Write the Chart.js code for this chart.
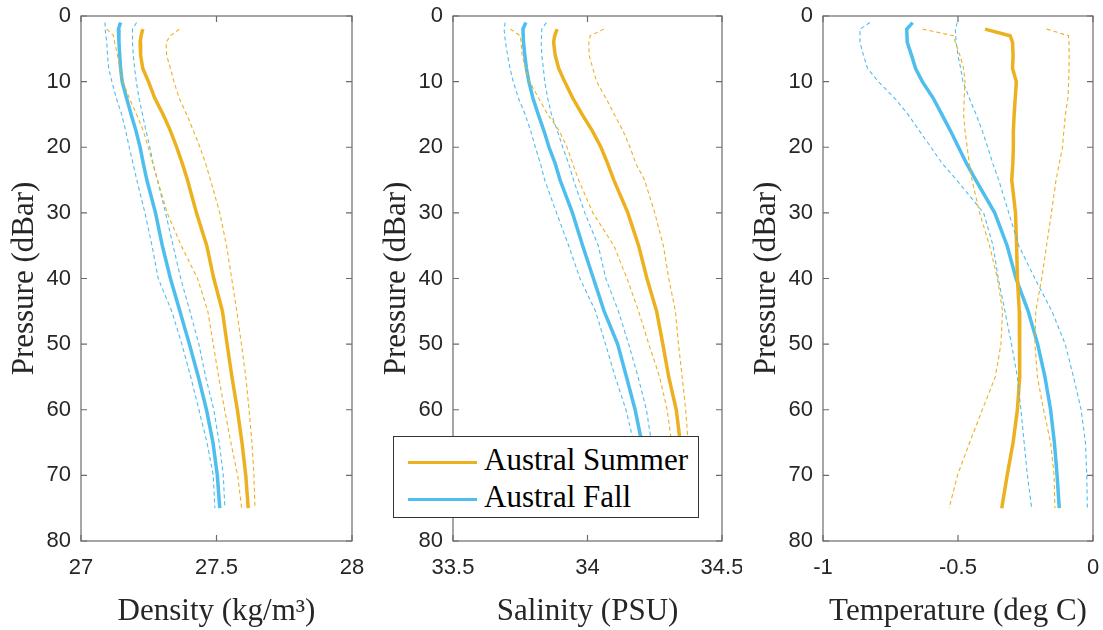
<!DOCTYPE html>
<html>
<head>
<meta charset="utf-8">
<script src="https://cdn.jsdelivr.net/npm/chart.js@4.4.1/dist/chart.umd.min.js"></script>
<style>
    body { margin: 0; background: #fff; width: 1103px; height: 630px; position: relative; overflow: hidden; }
    canvas { position: absolute; top: 0; }
    #legend {
        position: absolute; left: 393px; top: 436px; width: 304px; height: 80px;
        background: #fff; border: 1px solid #333; z-index: 5;
        font-family: "Liberation Serif", "Times New Roman", serif; font-size: 31px; color: #000;
    }
    #legend .row { position: absolute; left: 14px; height: 36px; line-height: 36px; white-space: nowrap; }
    #legend .swatch { display: inline-block; width: 69px; height: 0; border-top: 3.5px solid; vertical-align: middle; margin-right: 7px; }
</style>
</head>
<body>
<canvas id="densityChart" width="372" height="630" style="left:0px"></canvas>
<canvas id="salinityChart" width="370" height="630" style="left:372px"></canvas>
<canvas id="tempChart" width="361" height="630" style="left:742px"></canvas>
<div id="legend">
    <div class="row" style="top:5px"><span class="swatch" style="border-color:#EDB120"></span>Austral Summer</div>
    <div class="row" style="top:42px"><span class="swatch" style="border-color:#4DBEEE"></span>Austral Fall</div>
</div>
<script>
// pressure levels (dBar) of each season's profile
const fallPres = [1, 2, 4, 6, 8, 10, 12.5, 15, 17.5, 20, 22.5, 25, 30, 35, 40, 45, 50, 55, 60, 65, 70, 75];
const sumPres = [2, 3, 4, 6, 8, 10, 12.5, 15, 17.5, 20, 22.5, 25, 30, 35, 40, 45, 50, 55, 60, 65, 70, 75];

// density (kg/m3): mean and dashed bounds
const densFall = [27.146, 27.138, 27.140, 27.143, 27.146, 27.152, 27.168, 27.185, 27.203, 27.218, 27.230, 27.243, 27.275, 27.300, 27.330, 27.365, 27.400, 27.433, 27.463, 27.487, 27.503, 27.512];
const densFallLo = [27.089, 27.089, 27.095, 27.098, 27.102, 27.114, 27.130, 27.150, 27.165, 27.178, 27.192, 27.206, 27.236, 27.262, 27.285, 27.335, 27.372, 27.405, 27.435, 27.465, 27.488, 27.494];
const densFallHi = [27.205, 27.190, 27.190, 27.193, 27.198, 27.204, 27.214, 27.227, 27.240, 27.254, 27.266, 27.282, 27.312, 27.340, 27.368, 27.402, 27.435, 27.460, 27.490, 27.510, 27.525, 27.531];
const densSum = [27.228, 27.222, 27.218, 27.220, 27.228, 27.249, 27.272, 27.303, 27.330, 27.353, 27.374, 27.393, 27.426, 27.464, 27.490, 27.522, 27.539, 27.557, 27.577, 27.594, 27.608, 27.617];
const densSumLo = [27.095, 27.120, 27.124, 27.135, 27.143, 27.155, 27.178, 27.205, 27.230, 27.248, 27.265, 27.282, 27.318, 27.370, 27.430, 27.468, 27.488, 27.508, 27.530, 27.553, 27.578, 27.593];
const densSumHi = [27.363, 27.330, 27.314, 27.316, 27.330, 27.343, 27.362, 27.390, 27.415, 27.439, 27.460, 27.478, 27.512, 27.537, 27.556, 27.575, 27.592, 27.608, 27.620, 27.631, 27.638, 27.642];

// salinity (PSU)
const salFall = [33.771, 33.760, 33.762, 33.767, 33.773, 33.782, 33.797, 33.817, 33.838, 33.857, 33.880, 33.898, 33.944, 33.982, 34.022, 34.062, 34.112, 34.145, 34.177, 34.202, 34.215, 34.225];
const salFallLo = [33.694, 33.690, 33.695, 33.703, 33.712, 33.724, 33.743, 33.768, 33.789, 33.806, 33.825, 33.841, 33.885, 33.930, 33.972, 34.030, 34.067, 34.103, 34.143, 34.172, 34.190, 34.200];
const salFallHi = [33.847, 33.830, 33.828, 33.830, 33.836, 33.841, 33.852, 33.866, 33.888, 33.908, 33.930, 33.948, 33.990, 34.040, 34.068, 34.115, 34.153, 34.188, 34.219, 34.238, 34.250, 34.260];
const salSum = [33.887, 33.878, 33.874, 33.880, 33.893, 33.915, 33.945, 33.980, 34.018, 34.050, 34.075, 34.098, 34.150, 34.190, 34.221, 34.257, 34.280, 34.302, 34.330, 34.345, 34.355, 34.362];
const salSumLo = [33.713, 33.750, 33.753, 33.757, 33.770, 33.785, 33.818, 33.852, 33.895, 33.924, 33.945, 33.967, 34.020, 34.098, 34.147, 34.190, 34.228, 34.268, 34.296, 34.313, 34.328, 34.338];
const salSumHi = [34.061, 34.010, 34.005, 34.006, 34.020, 34.034, 34.068, 34.100, 34.132, 34.158, 34.180, 34.212, 34.250, 34.282, 34.302, 34.327, 34.338, 34.352, 34.365, 34.374, 34.380, 34.385];

// temperature (deg C)
const tempFall = [-0.668, -0.690, -0.688, -0.672, -0.657, -0.632, -0.592, -0.560, -0.528, -0.498, -0.468, -0.434, -0.364, -0.318, -0.285, -0.240, -0.205, -0.178, -0.157, -0.143, -0.133, -0.125];
const tempFallLo = [-0.826, -0.863, -0.863, -0.850, -0.835, -0.795, -0.735, -0.685, -0.643, -0.600, -0.558, -0.505, -0.405, -0.370, -0.351, -0.326, -0.302, -0.280, -0.267, -0.255, -0.243, -0.227];
const tempFallHi = [-0.503, -0.510, -0.507, -0.500, -0.490, -0.482, -0.458, -0.433, -0.410, -0.390, -0.371, -0.349, -0.312, -0.275, -0.215, -0.152, -0.103, -0.072, -0.044, -0.028, -0.023, -0.021];
const tempSum = [-0.400, -0.307, -0.298, -0.296, -0.298, -0.284, -0.288, -0.292, -0.295, -0.295, -0.297, -0.301, -0.287, -0.283, -0.280, -0.273, -0.271, -0.272, -0.280, -0.296, -0.318, -0.338];
const tempSumLo = [-0.631, -0.517, -0.510, -0.493, -0.479, -0.474, -0.477, -0.479, -0.474, -0.466, -0.458, -0.448, -0.420, -0.383, -0.354, -0.335, -0.341, -0.362, -0.410, -0.457, -0.502, -0.533];
const tempSumHi = [-0.171, -0.091, -0.089, -0.088, -0.089, -0.090, -0.093, -0.102, -0.108, -0.113, -0.125, -0.137, -0.154, -0.172, -0.190, -0.212, -0.215, -0.206, -0.183, -0.157, -0.144, -0.141];

const summerColor = '#EDB120';
const fallColor = '#4DBEEE';
const axisColor = '#6b6b6b';
const textColor = '#262626';
const serif = '"Liberation Serif", "Times New Roman", serif';
const sans = '"Liberation Sans", Arial, sans-serif';

// zip values with pressure into {x, y} points
function profile(values, pres) {
    return values.map((v, i) => ({ x: v, y: pres[i] }));
}

function line(values, pres, color, dashed) {
    return {
        data: profile(values, pres),
        showLine: true,
        borderColor: color,
        borderWidth: dashed ? 1.1 : 3.5,
        borderDash: dashed ? [4, 3] : [],
        pointRadius: 0,
        fill: false,
        tension: 0
    };
}

// MATLAB style box with inward ticks
const boxTicks = {
    id: 'boxTicks',
    afterDatasetsDraw(chart) {
        const { ctx, chartArea: a, scales: { x, y } } = chart;
        const len = 6;
        ctx.save();
        ctx.strokeStyle = axisColor;
        ctx.lineWidth = 1.2;
        ctx.strokeRect(a.left, a.top, a.width, a.height);
        ctx.beginPath();
        y.ticks.forEach(t => {
            const py = y.getPixelForValue(t.value);
            ctx.moveTo(a.left, py); ctx.lineTo(a.left + len, py);
            ctx.moveTo(a.right, py); ctx.lineTo(a.right - len, py);
        });
        x.ticks.forEach(t => {
            const px = x.getPixelForValue(t.value);
            ctx.moveTo(px, a.bottom); ctx.lineTo(px, a.bottom - len);
            ctx.moveTo(px, a.top); ctx.lineTo(px, a.top + len);
        });
        ctx.stroke();
        ctx.restore();
    }
};

// drop the extra room chart.js keeps for overhanging tick labels
function noOverhang(scale) {
    scale.paddingLeft = 0;
    scale.paddingRight = 0;
    scale.paddingTop = 0;
    scale.paddingBottom = 0;
}

function makePanel(id, xMin, xMax, xTitle, series, rightPad) {
    const ctx = document.getElementById(id).getContext('2d');
    return new Chart(ctx, {
        type: 'scatter',
        data: { datasets: series },
        options: {
            responsive: false,
            animation: false,
            layout: { padding: { left: 0, right: rightPad, top: 16, bottom: 0 } },
            plugins: { legend: { display: false }, tooltip: { enabled: false } },
            scales: {
                x: {
                    type: 'linear',
                    min: xMin,
                    max: xMax,
                    grid: { display: false, drawTicks: false },
                    border: { display: false },
                    ticks: {
                        stepSize: (xMax - xMin) / 2,
                        color: textColor,
                        font: { family: sans, size: 22 },
                        padding: 14,
                        callback: (v) => String(Math.round(v * 10) / 10)
                    },
                    title: { display: true, text: xTitle, color: textColor, font: { family: serif, size: 31 }, padding: { top: 4, bottom: 0 } },
                    afterFit: (scale) => { scale.height = 89; noOverhang(scale); }
                },
                y: {
                    type: 'linear',
                    reverse: true,
                    min: 0,
                    max: 80,
                    grid: { display: false, drawTicks: false },
                    border: { display: false },
                    ticks: { stepSize: 10, color: textColor, font: { family: sans, size: 22 }, padding: 10 },
                    title: { display: true, text: 'Pressure (dBar)', color: textColor, font: { family: serif, size: 31 }, padding: { top: 6, bottom: 0 } },
                    afterFit: (scale) => { scale.width = 81; noOverhang(scale); }
                }
            }
        },
        plugins: [boxTicks]
    });
}

makePanel('densityChart', 27, 28, 'Density (kg/m³)', [
    line(densSumLo, sumPres, summerColor, true),
    line(densSumHi, sumPres, summerColor, true),
    line(densFallLo, fallPres, fallColor, true),
    line(densFallHi, fallPres, fallColor, true),
    line(densSum, sumPres, summerColor, false),
    line(densFall, fallPres, fallColor, false)
], 20);

makePanel('salinityChart', 33.5, 34.5, 'Salinity (PSU)', [
    line(salSumLo, sumPres, summerColor, true),
    line(salSumHi, sumPres, summerColor, true),
    line(salFallLo, fallPres, fallColor, true),
    line(salFallHi, fallPres, fallColor, true),
    line(salSum, sumPres, summerColor, false),
    line(salFall, fallPres, fallColor, false)
], 20);

makePanel('tempChart', -1, 0, 'Temperature (deg C)', [
    line(tempSumLo, sumPres, summerColor, true),
    line(tempSumHi, sumPres, summerColor, true),
    line(tempFallLo, fallPres, fallColor, true),
    line(tempFallHi, fallPres, fallColor, true),
    line(tempSum, sumPres, summerColor, false),
    line(tempFall, fallPres, fallColor, false)
], 10);
</script>
</body>
</html>
